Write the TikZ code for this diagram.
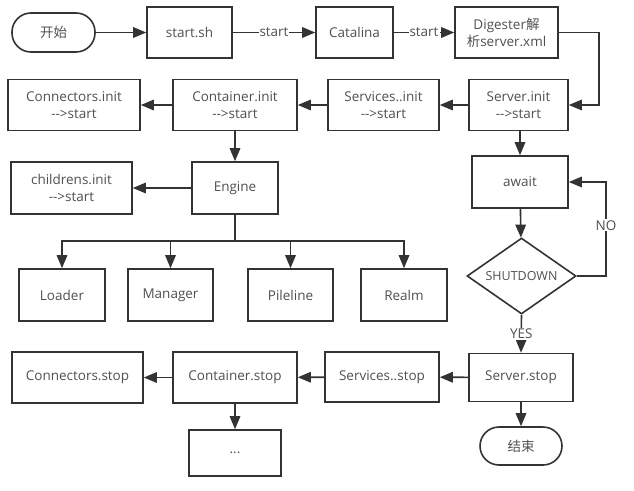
\documentclass[tikz,border=0pt]{standalone}
\usepackage{fontspec}
\setmainfont{Open Sans}
\newfontfamily\cjk{Noto Sans CJK SC}
\usetikzlibrary{shapes.geometric,arrows.meta}
\definecolor{linec}{HTML}{333333}
\definecolor{textc}{HTML}{505050}
\newcommand{\arrowtxt}{\mbox{-}\mbox{-}>start}
\begin{document}
\begin{tikzpicture}[x=1pt,y=-1pt,
  blk/.style={draw=linec, line width=1.6pt, rectangle, inner sep=0pt, align=center,
    text=textc, font=\fontsize{13.5}{17}\selectfont},
  term/.style={blk, rounded corners=19pt},
  arr/.style={draw=linec, line width=1.6pt, -{Triangle[length=13pt,width=10.5pt]}},
  plain/.style={draw=linec, line width=1.6pt},
  lbl/.style={fill=white, inner sep=1pt, text=textc, font=\fontsize{13.5}{17}\selectfont}
]
\useasboundingbox (0,0) rectangle (634,490);
% row 1
\node[term, minimum width=83pt, minimum height=39pt] (begin) at (53.5,32.5) {\cjk 开始};
\node[blk, minimum width=85pt, minimum height=51pt] (startsh) at (189.5,32.5) {start.sh};
\node[blk, minimum width=77pt, minimum height=51pt] (catalina) at (354.5,32.5) {Catalina};
\node[blk, minimum width=103pt, minimum height=51pt] (digester) at (506.5,32.5) {Digester{\cjk 解}\\{\cjk 析}server.xml};
% row 2
\node[blk, minimum width=99pt, minimum height=51pt] (serverinit) at (518.5,105) {Server.init\\\arrowtxt};
\node[blk, minimum width=111pt, minimum height=51pt] (servicesinit) at (383.5,105) {Services..init\\\arrowtxt};
\node[blk, minimum width=124pt, minimum height=51pt] (containerinit) at (235,105) {Container.init\\\arrowtxt};
\node[blk, minimum width=132pt, minimum height=51pt] (connectorsinit) at (74,105) {Connectors.init\\\arrowtxt};
% row 3
\node[blk, minimum width=86pt, minimum height=52pt] (engine) at (235,188) {Engine};
\node[blk, minimum width=121pt, minimum height=52pt] (childrens) at (71.5,188) {childrens.init\\\arrowtxt};
\node[blk, minimum width=96pt, minimum height=52pt] (await) at (520,182) {await};
% row 4
\node[blk, minimum width=86pt, minimum height=52pt] (loader) at (62,295) {Loader};
\node[blk, minimum width=85pt, minimum height=52pt] (manager) at (170.5,295) {Manager};
\node[blk, minimum width=85pt, minimum height=52pt] (pileline) at (290.5,295) {Pileline};
\node[blk, minimum width=86pt, minimum height=52pt] (realm) at (404,295) {Realm};
\node[draw=linec, line width=1.6pt, diamond, minimum width=109pt, minimum height=76pt, inner sep=0pt,
  text=textc, font=\fontsize{12.5}{15}\selectfont] (sd) at (521.5,276) {\makebox[0pt][c]{SHUTDOWN}};
% row 5
\node[blk, minimum width=104pt, minimum height=48pt] (serverstop) at (521,377.5) {Server.stop};
\node[blk, minimum width=114pt, minimum height=50pt] (servicesstop) at (382,377) {Services..stop};
\node[blk, minimum width=124pt, minimum height=51pt] (containerstop) at (235,377.5) {Container.stop};
\node[blk, minimum width=131pt, minimum height=51pt] (connectorsstop) at (77.5,377.5) {Connectors.stop};
% row 6
\node[blk, minimum width=92pt, minimum height=46pt] (dots) at (235,453) {...};
\node[term, minimum width=82pt, minimum height=38pt] (end) at (521,446) {\cjk 结束};
% connectors
\draw[arr] (begin) -- (startsh);
\draw[arr] (startsh) -- node[lbl]{start} (catalina);
\draw[arr] (catalina) -- node[lbl]{start} (digester);
\coordinate (c1) at (599,32.5);
\draw[arr] (digester.east) -- (c1) |- (serverinit.east);
\draw[arr] (serverinit) -- (servicesinit);
\draw[arr] (servicesinit) -- (containerinit);
\draw[arr] (containerinit) -- (connectorsinit);
\draw[arr] (containerinit) -- (engine);
\draw[arr] (engine) -- (childrens);
\coordinate (bj) at (235,241);
\draw[plain] (engine.south) -- (bj);
\draw[arr] (bj) -| (loader.north);
\draw[arr] (bj) -| (manager.north);
\draw[arr] (bj) -| (pileline.north);
\draw[arr] (bj) -| (realm.north);
\draw[arr] (serverinit.south -| await.north) -- (await.north);
\draw[arr] (await) -- (sd);
\coordinate (cno) at (606,276);
\draw[arr] (sd.east) -- (cno) |- node[lbl, pos=0.27]{NO} (await.east);
\draw[arr] (sd.south) -- node[lbl]{YES} (serverstop.north);
\draw[arr] (serverstop) -- (servicesstop);
\draw[arr] (servicesstop) -- (containerstop);
\draw[arr] (containerstop) -- (connectorsstop);
\draw[arr] (containerstop) -- (dots);
\draw[arr] (serverstop) -- (end);
\end{tikzpicture}
\end{document}
